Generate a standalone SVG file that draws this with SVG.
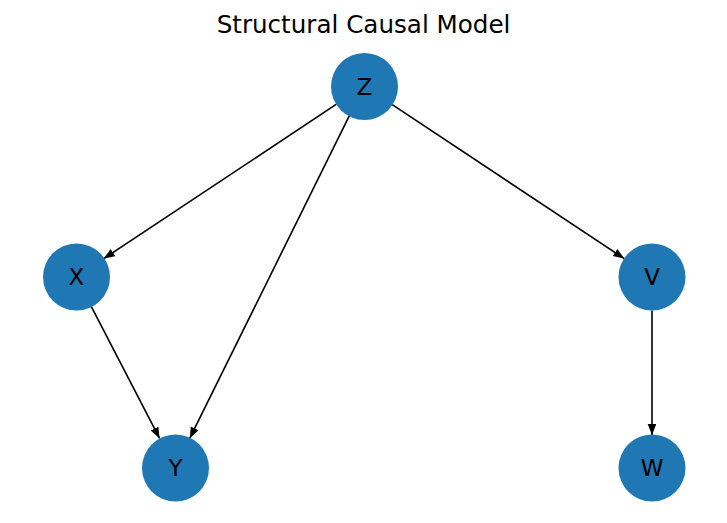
<svg xmlns="http://www.w3.org/2000/svg" width="727" height="523" viewBox="0 0 727 523">
<defs>
<style>
.node circle{fill:#1f77b4;}
.node text{font-family:"DejaVu Sans",sans-serif;font-size:23px;fill:#000;text-anchor:middle;dominant-baseline:central;}
.edges line{stroke:#000;stroke-width:1.6;fill:none;marker-end:url(#ah);}
.title{font-family:"DejaVu Sans",sans-serif;font-size:24.6px;fill:#000;text-anchor:middle;}
</style>
<marker id="ah" markerUnits="userSpaceOnUse" markerWidth="12" markerHeight="10" refX="11" refY="4.3" orient="auto">
<path d="M0,0 L11,4.3 L0,8.6 z" fill="#000"/>
</marker>
</defs>
<rect width="727" height="523" fill="#fff"/>
<text class="title" x="363.5" y="33.3">Structural Causal Model</text>
<g id="edges" class="edges">
<line x1="336.5" y1="104.2" x2="103.8" y2="258.6"/>
<line x1="349.4" y1="115.6" x2="189.8" y2="438.2"/>
<line x1="391.5" y1="104.2" x2="624.2" y2="258.6"/>
<line x1="91.2" y1="306.3" x2="159.6" y2="438.4"/>
<line x1="652" y1="310.5" x2="652" y2="435"/>
</g>
<g id="node-Z" class="node"><circle cx="364.5" cy="86.5" r="33.5"/><text x="364.5" y="86.5">Z</text></g>
<g id="node-X" class="node"><circle cx="76.5" cy="277" r="33.5"/><text x="76.5" y="277">X</text></g>
<g id="node-V" class="node"><circle cx="652" cy="277" r="33.5"/><text x="652" y="277">V</text></g>
<g id="node-Y" class="node"><circle cx="175.5" cy="468" r="33.5"/><text x="175.5" y="468">Y</text></g>
<g id="node-W" class="node"><circle cx="652" cy="468" r="33.5"/><text x="652" y="468">W</text></g>
</svg>
